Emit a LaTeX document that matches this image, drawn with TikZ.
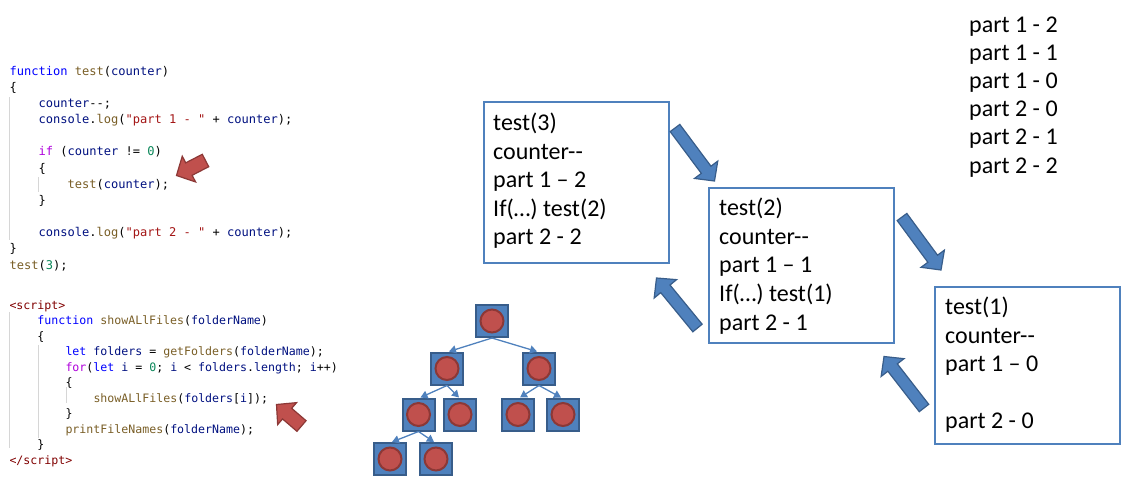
\documentclass[tikz,border=0pt]{standalone}
\usepackage{fontspec}
\setmainfont{Carlito}
\newfontfamily\codefont{DejaVu Sans Mono}
\usetikzlibrary{arrows.meta,calc}
\definecolor{ckw}{HTML}{0000FF}
\definecolor{cctl}{HTML}{AF00DB}
\definecolor{cfn}{HTML}{795E26}
\definecolor{cvar}{HTML}{001080}
\definecolor{cstr}{HTML}{A31515}
\definecolor{cnum}{HTML}{098658}
\definecolor{ctag}{HTML}{800000}
\definecolor{guide}{HTML}{D6D6D6}
\definecolor{accent}{HTML}{4F81BD}
\definecolor{accentdk}{HTML}{385D8A}
\definecolor{redf}{HTML}{C0504D}
\definecolor{redd}{HTML}{8C3836}
\newcommand\cKw[1]{\textcolor{ckw}{#1}}
\newcommand\cCtl[1]{\textcolor{cctl}{#1}}
\newcommand\cFn[1]{\textcolor{cfn}{#1}}
\newcommand\cVr[1]{\textcolor{cvar}{#1}}
\newcommand\cSt[1]{\textcolor{cstr}{#1}}
\newcommand\cNm[1]{\textcolor{cnum}{#1}}
\newcommand\cTg[1]{\textcolor{ctag}{#1}}
% block arrow: tail, tip, shaft half width, head half width, head length, style
\newcommand\blockarrow[6]{%
  \coordinate (hb) at ($(#2)!#5!(#1)$);
  \filldraw[#6]
    ($(#1)!#3!90:(#2)$) -- ($(hb)!#3!90:(#2)$) -- ($(hb)!#4!90:(#2)$) -- (#2)
    -- ($(hb)!#4!-90:(#2)$) -- ($(hb)!#3!-90:(#2)$) -- ($(#1)!#3!-90:(#2)$) -- cycle;
}
\begin{document}
\begin{tikzpicture}[x=1pt,y=-1pt,
  codeA/.style={anchor=base west, inner sep=0, font=\codefont\fontsize{12.05}{14}\selectfont},
  codeB/.style={anchor=base west, inner sep=0, font=\codefont\fontsize{11.6}{14}\selectfont},
  guideline/.style={draw=guide, line width=0.8pt},
  callbox/.style={draw=accent, line width=2pt, anchor=north west, inner sep=0},
  boxtext/.style={anchor=base west, inner sep=0, font=\fontsize{24}{28}\selectfont},
  folder/.style={rectangle, draw=accentdk, fill=accent, line width=2pt, minimum size=32pt, inner sep=0,
    path picture={\filldraw[fill=redf,draw=redd,line width=2pt] (path picture bounding box.center) circle (11.5pt);}},
  treeedge/.style={draw=accent, line width=1.3pt, -{Triangle[length=7pt,width=8pt]}},
  bluearrow/.style={fill=accent, draw=accentdk, line width=1.2pt, line join=miter},
  redarrow/.style={fill=redf, draw=redd, line width=1.2pt, line join=miter}]
\useasboundingbox (0,0) rectangle (1136,496);

% ---------- code block 1 ----------
\draw[guideline] (9.5,97) -- (9.5,240);
\draw[guideline] (38.5,177) -- (38.5,192);
\node[codeA] (c1l0) at (9.3,75) {\cKw{function} \cFn{test}(\cVr{counter})};
\node[codeA] (c1l1) at (9.3,91.2) {\{};
\node[codeA] (c1l2) at (38.3,107.3) {\cVr{counter}-{}-;};
\node[codeA] (c1l3) at (38.3,123.5) {\cVr{console}.\cFn{log}(\cSt{"part 1 - "} + \cVr{counter});};
\node[codeA] (c1l5) at (38.3,155.9) {\cCtl{if} (\cVr{counter} != \cNm{0})};
\node[codeA] (c1l6) at (38.3,172) {\{};
\node[codeA] (c1l7) at (67.3,188.2) {\cFn{test}(\cVr{counter});};
\node[codeA] (c1l8) at (38.3,204.4) {\}};
\node[codeA] (c1l10) at (38.3,236.7) {\cVr{console}.\cFn{log}(\cSt{"part 2 - "} + \cVr{counter});};
\node[codeA] (c1l11) at (9.3,252.9) {\}};
\node[codeA] (c1l12) at (9.3,269) {\cFn{test}(\cNm{3});};

% ---------- code block 2 ----------
\draw[guideline] (9.5,312) -- (9.5,448);
\draw[guideline] (38,345) -- (38,438);
\draw[guideline] (66,387) -- (66,403);
\node[codeB] (c2l0) at (9.3,309) {\cTg{<script>}};
\node[codeB] (c2l1) at (37.3,324.5) {\cKw{function} \cFn{showALlFiles}(\cVr{folderName})};
\node[codeB] (c2l2) at (37.3,340) {\{};
\node[codeB] (c2l3) at (65.3,355.5) {\cKw{let} \cVr{folders} = \cFn{getFolders}(\cVr{folderName});};
\node[codeB] (c2l4) at (65.3,371) {\cCtl{for}(\cKw{let} \cVr{i} = \cNm{0}; \cVr{i} < \cVr{folders}.\cVr{length}; \cVr{i}++)};
\node[codeB] (c2l5) at (65.3,386.5) {\{};
\node[codeB] (c2l6) at (93.3,402) {\cFn{showALlFiles}(\cVr{folders}[\cVr{i}]);};
\node[codeB] (c2l7) at (65.3,417.5) {\}};
\node[codeB] (c2l8) at (65.3,433) {\cFn{printFileNames}(\cVr{folderName});};
\node[codeB] (c2l9) at (37.3,448.5) {\}};
\node[codeB] (c2l10) at (9.3,464) {\cTg{</script>}};

% ---------- red arrows ----------
\coordinate (ra1t) at (205.5,160.5);
\coordinate (ra1h) at (176.5,175.5);
\blockarrow{ra1t}{ra1h}{7pt}{14.5pt}{14pt}{redarrow}
\coordinate (ra2t) at (301.5,426);
\coordinate (ra2h) at (276.5,404.5);
\blockarrow{ra2t}{ra2h}{7pt}{14.5pt}{14pt}{redarrow}

% ---------- tree ----------
\node[folder] (r) at (492,321) {};
\node[folder] (a) at (447,368.5) {};
\node[folder] (b) at (539,368.5) {};
\node[folder] (aa) at (418.5,414.5) {};
\node[folder] (ab) at (460,414.5) {};
\node[folder] (ba) at (518,414.5) {};
\node[folder] (bb) at (563,414.5) {};
\node[folder] (aaa) at (390,459) {};
\node[folder] (aab) at (436,459) {};
\draw[treeedge] (r.south) -- ($(a.north)+(2,0)$);
\draw[treeedge] (r.south) -- ($(b.north)+(-2,0)$);
\draw[treeedge] (a.south) -- ($(aa.north)+(2,0)$);
\draw[treeedge] (a.south) -- ($(ab.north)+(-1,0)$);
\draw[treeedge] (b.south) -- ($(ba.north)+(2,0)$);
\draw[treeedge] (b.south) -- ($(bb.north)+(-2,0)$);
\draw[treeedge] (aa.south) -- ($(aaa.north)+(2,0)$);
\draw[treeedge] (aa.south) -- ($(aab.north)+(-2,0)$);

% ---------- call boxes ----------
\node[callbox, minimum width=185pt, minimum height=161pt] (boxA) at (483,101) {};
\node[callbox, minimum width=185pt, minimum height=155pt] (boxB) at (708,187) {};
\node[callbox, minimum width=185pt, minimum height=157pt] (boxC) at (934,286) {};

\node[boxtext] (a1) at (493,130.5) {test(3)};
\node[boxtext] (a2) at (493,159) {counter-{}-};
\node[boxtext] (a3) at (493,187.5) {part 1 – 2};
\node[boxtext] (a4) at (493,216) {If(…) test(2)};
\node[boxtext] (a5) at (493,244.5) {part 2 - 2};

\node[boxtext] (b1) at (719,215.5) {test(2)};
\node[boxtext] (b2) at (719,244.2) {counter-{}-};
\node[boxtext] (b3) at (719,272.9) {part 1 – 1};
\node[boxtext] (b4) at (719,301.6) {If(…) test(1)};
\node[boxtext] (b5) at (719,330.3) {part 2 - 1};

\node[boxtext] (cc1) at (945,314.5) {test(1)};
\node[boxtext] (cc2) at (945,343) {counter-{}-};
\node[boxtext] (cc3) at (945,371.5) {part 1 – 0};
\node[boxtext] (cc5) at (945,428.5) {part 2 - 0};

% ---------- blue arrows ----------
\coordinate (ba1t) at (675,128);
\coordinate (ba1h) at (714.5,181);
\blockarrow{ba1t}{ba1h}{6pt}{14.5pt}{14pt}{bluearrow}
\coordinate (ba2t) at (902,217);
\coordinate (ba2h) at (941,270);
\blockarrow{ba2t}{ba2h}{6pt}{14.5pt}{14pt}{bluearrow}
\coordinate (ba3t) at (924,408);
\coordinate (ba3h) at (884,356.5);
\blockarrow{ba3t}{ba3h}{6pt}{14.5pt}{14pt}{bluearrow}
\coordinate (ba4t) at (697.5,328);
\coordinate (ba4h) at (656.5,278);
\blockarrow{ba4t}{ba4h}{6pt}{14.5pt}{14pt}{bluearrow}

% ---------- output list ----------
\node[boxtext] (o1) at (969,32) {part 1 - 2};
\node[boxtext] (o2) at (969,60.2) {part 1 - 1};
\node[boxtext] (o3) at (969,88.4) {part 1 - 0};
\node[boxtext] (o4) at (969,116.6) {part 2 - 0};
\node[boxtext] (o5) at (969,144.8) {part 2 - 1};
\node[boxtext] (o6) at (969,173) {part 2 - 2};
\end{tikzpicture}
\end{document}
